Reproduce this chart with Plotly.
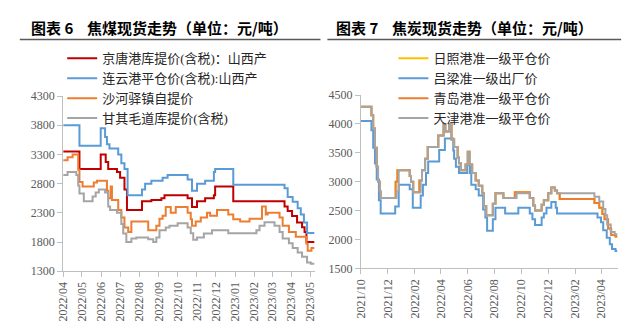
import plotly.graph_objects as go

# ---------------- Left chart: 焦煤现货走势 ----------------
jt_dates = ["2022-04-01","2022-04-27","2022-05-31","2022-06-08","2022-06-12","2022-06-26","2022-07-01","2022-07-08",
            "2022-07-12","2022-08-05","2022-08-20","2022-09-05","2022-09-10","2022-10-17","2022-10-24","2022-11-01",
            "2022-11-14","2022-11-28","2022-11-30","2022-12-29","2023-03-21","2023-03-26","2023-04-02","2023-04-10",
            "2023-04-18","2023-04-22","2023-04-25","2023-05-08"]
jt_vals = [3350,3050,3300,3170,3050,3000,2900,2700,2350,2500,2520,2550,2600,2550,2400,2500,2550,2600,2750,2500,
           2410,2330,2245,2135,2055,1970,1800,1800]

lyg_dates = ["2022-04-01","2022-04-27","2022-05-31","2022-06-07","2022-06-10","2022-06-14","2022-06-28","2022-07-03",
             "2022-07-08","2022-07-13","2022-08-05","2022-08-10","2022-08-20","2022-09-07","2022-09-15","2022-10-17",
             "2022-10-24","2022-11-01","2022-11-14","2022-11-28","2022-11-30","2022-12-29","2023-03-21","2023-03-26",
             "2023-04-03","2023-04-11","2023-04-16","2023-04-21","2023-04-26","2023-05-08"]
lyg_vals = [3800,3450,3750,3600,3475,3400,3300,3150,3050,2600,2700,2800,2850,2900,2950,2870,2680,2800,2850,3000,
            3050,2780,2720,2570,2490,2380,2270,2135,1955,1955]

sh_dates = ["2022-04-01","2022-04-08","2022-04-16","2022-04-25","2022-04-27","2022-05-02","2022-05-20","2022-05-25",
            "2022-06-10","2022-06-12","2022-06-16","2022-06-18","2022-06-28","2022-07-03","2022-07-08","2022-07-14",
            "2022-07-19","2022-08-15","2022-08-28","2022-09-02","2022-09-07","2022-09-12","2022-09-20","2022-09-28",
            "2022-10-17","2022-10-22","2022-10-24","2022-10-30","2022-11-07","2022-11-17","2022-11-22","2022-12-03",
            "2022-12-21","2022-12-29","2023-01-09","2023-01-24","2023-02-13","2023-02-19","2023-02-22","2023-03-13",
            "2023-03-18","2023-03-28","2023-04-08","2023-04-25","2023-04-27","2023-05-03","2023-05-08"]
sh_vals = [3200,3250,3300,3040,2830,2750,2820,2850,2680,2550,2750,2520,2350,2220,2050,1970,2150,2000,2080,2200,
           2250,2400,2300,2400,2300,2190,2080,2150,2220,2300,2250,2350,2270,2190,2150,2200,2410,2270,2300,2220,
           2080,1970,1890,1770,1650,1700,1700]

gq_dates = ["2022-04-01","2022-04-08","2022-04-22","2022-04-25","2022-04-27","2022-05-04","2022-05-18","2022-05-23",
            "2022-05-28","2022-06-07","2022-06-12","2022-06-15","2022-06-26","2022-07-03","2022-07-06","2022-07-11",
            "2022-07-19","2022-07-27","2022-08-15","2022-08-23","2022-08-28","2022-09-02","2022-09-12","2022-09-18",
            "2022-10-01","2022-10-17","2022-10-22","2022-10-26","2022-11-01","2022-11-12","2022-11-25","2022-12-21",
            "2023-02-04","2023-02-09","2023-02-17","2023-03-05","2023-03-13","2023-03-18","2023-03-28","2023-04-03",
            "2023-04-11","2023-04-18","2023-04-26","2023-05-02","2023-05-08"]
gq_vals = [2950,3000,2950,2770,2630,2500,2580,2650,2700,2650,2410,2350,2300,2110,1945,1800,1860,1880,1850,1800,
           1880,2000,2050,2080,2120,2050,1950,1840,1880,1945,2000,1950,2000,2080,2140,2080,1970,1860,1780,1700,
           1620,1550,1450,1430,1430]

left_names = ["京唐港库提价(含税)：山西产", "连云港平仓价(含税):山西产", "沙河驿镇自提价", "甘其毛道库提价(含税)"]
left_colors = ["#C00000", "#5B9BD5", "#ED7D31", "#A5A5A5"]

# ---------------- Right chart: 焦炭现货走势 ----------------
tj_dates = ["2021-10-01","2021-10-25","2021-10-29","2021-11-02","2021-11-06","2021-11-09","2021-11-13","2021-11-15",
            "2021-12-21","2021-12-26","2022-01-20","2022-01-23","2022-01-28","2022-02-14","2022-02-17","2022-02-24",
            "2022-03-02","2022-03-26","2022-04-07","2022-04-11","2022-04-20","2022-04-25","2022-05-01","2022-05-09",
            "2022-05-12","2022-05-16","2022-05-27","2022-06-01","2022-06-05","2022-06-11","2022-06-19","2022-06-26",
            "2022-07-04","2022-07-08","2022-07-13","2022-07-28","2022-08-03","2022-08-21","2022-09-20","2022-10-20",
            "2022-10-28","2022-11-01","2022-11-16","2022-11-21","2022-12-01","2022-12-08","2022-12-16","2022-12-21",
            "2023-03-16","2023-03-27","2023-04-05","2023-04-10","2023-04-14","2023-04-22","2023-05-01","2023-05-07"]
tj_vals = [4300,4150,3920,3590,3260,3000,2830,2720,2830,3200,3100,3000,2820,3020,3200,3400,3600,3800,4000,3870,
           4000,3730,3600,3420,3320,3200,3300,3520,3300,3150,3020,2930,2800,2575,2420,2620,2800,2720,2800,2720,
           2590,2500,2600,2680,2800,2900,2850,2800,2740,2660,2530,2420,2260,2130,2090,2090]

qd_dates = ["2021-10-01","2021-10-25","2021-10-29","2021-11-02","2021-11-06","2021-11-09","2021-11-13","2021-11-15",
            "2021-12-19","2021-12-23","2022-01-20","2022-01-23","2022-01-28","2022-02-11","2022-02-17","2022-02-24",
            "2022-03-02","2022-03-26","2022-04-07","2022-04-11","2022-04-20","2022-04-25","2022-05-01","2022-05-09",
            "2022-05-12","2022-05-16","2022-05-27","2022-06-01","2022-06-05","2022-06-11","2022-06-19","2022-06-26",
            "2022-07-04","2022-07-08","2022-07-13","2022-07-28","2022-08-03","2022-08-21","2022-09-16","2022-10-20",
            "2022-10-28","2022-11-01","2022-11-16","2022-11-21","2022-12-01","2022-12-08","2022-12-16","2022-12-21",
            "2022-12-27","2023-03-16","2023-03-27","2023-04-03","2023-04-08","2023-04-16","2023-04-23","2023-05-03",
            "2023-05-07"]
qd_vals = [4300,4150,3920,3590,3260,3000,2830,2720,3000,3200,3100,3000,2820,3020,3200,3400,3600,3800,4000,3870,
           4000,3730,3600,3420,3320,3200,3300,3520,3300,3150,3020,2930,2800,2575,2420,2620,2800,2720,2820,2720,
           2590,2500,2600,2680,2800,2900,2850,2800,2700,2630,2550,2440,2350,2190,2080,2050,2050]

# 日照港 series is fully hidden beneath 青岛/天津 in the reference
rz_dates = list(qd_dates)
rz_vals = list(qd_vals)

ll_dates = ["2021-10-01","2021-10-25","2021-10-29","2021-11-02","2021-11-06","2021-11-11","2021-11-15","2021-12-18",
            "2021-12-26","2022-01-20","2022-01-27","2022-02-14","2022-02-19","2022-02-26","2022-03-03","2022-03-28",
            "2022-04-10","2022-04-29","2022-05-01","2022-05-05","2022-05-12","2022-05-31","2022-06-06","2022-06-09",
            "2022-06-19","2022-06-26","2022-07-06","2022-07-11","2022-07-15","2022-07-28","2022-08-03","2022-08-25",
            "2022-09-24","2022-10-20","2022-10-26","2022-11-01","2022-11-16","2022-11-21","2022-11-27","2022-12-08",
            "2022-12-18","2022-12-21","2023-03-23","2023-03-31","2023-04-05","2023-04-13","2023-04-20","2023-04-25",
            "2023-05-03","2023-05-07"]
ll_vals = [4050,3890,3590,3315,3040,2680,2450,2570,2950,2870,2550,2760,2950,3150,3350,3550,3750,3540,3400,3260,
           3150,3290,3150,2950,2870,2760,2520,2380,2150,2350,2550,2450,2550,2450,2350,2250,2380,2450,2550,2650,
           2550,2450,2380,2300,2160,2030,1920,1835,1800,1800]

right_names = ["日照港准一级平仓价", "吕梁准一级出厂价", "青岛港准一级平仓价", "天津港准一级平仓价"]
right_colors = ["#FFC000", "#5B9BD5", "#ED7D31", "#A5A5A5"]

left_y_ticks = [1300, 1800, 2300, 2800, 3300, 3800, 4300]
right_y_ticks = [1500, 2000, 2500, 3000, 3500, 4000, 4500]

W, H = 632, 329
fig = go.Figure()

left_series = [(jt_dates, jt_vals), (lyg_dates, lyg_vals), (sh_dates, sh_vals), (gq_dates, gq_vals)]
for (d, v), n, c in zip(left_series, left_names, left_colors):
    fig.add_trace(go.Scatter(x=d, y=v, name=n, mode="lines", line=dict(color=c, width=2, shape="hv"),
                             xaxis="x", yaxis="y", legend="legend"))

right_series = [(rz_dates, rz_vals), (ll_dates, ll_vals), (qd_dates, qd_vals), (tj_dates, tj_vals)]
for (d, v), n, c in zip(right_series, right_names, right_colors):
    fig.add_trace(go.Scatter(x=d, y=v, name=n, mode="lines", line=dict(color=c, width=2, shape="hv"),
                             xaxis="x2", yaxis="y2", legend="legend2"))

tickfont = dict(family="Liberation Serif, serif", size=12, color="#595959")
axcol = "#BFBFBF"

def px_x(p):
    return p / W

def px_y(p):
    return 1 - p / H

legend_font = dict(family="Liberation Serif, Noto Sans CJK SC", size=13, color="#262626")

fig.update_layout(
    width=W, height=H, margin=dict(l=0, r=0, t=0, b=0),
    paper_bgcolor="white", plot_bgcolor="white",
    xaxis=dict(domain=[px_x(57), px_x(312)], type="date", range=["2022-04-01", "2023-05-08"],
               tickformat="%Y/%m", dtick="M1", tick0="2022-04-01", tickangle=-90,
               showline=True, linecolor=axcol, linewidth=1, ticks="outside", ticklen=5, tickcolor=axcol,
               showgrid=False, zeroline=False, tickfont=tickfont, anchor="y"),
    yaxis=dict(domain=[px_y(276), px_y(93)], range=[1300, 4300], tickvals=left_y_ticks,
               showline=True, linecolor=axcol, linewidth=1, ticks="outside", ticklen=5, tickcolor=axcol,
               showgrid=False, zeroline=False, tickfont=tickfont, anchor="x"),
    xaxis2=dict(domain=[px_x(359), px_x(620)], type="date", range=["2021-10-01", "2023-05-09"],
                tickformat="%Y/%m", dtick="M2", tick0="2021-10-01", tickangle=-90,
                showline=True, linecolor=axcol, linewidth=1, ticks="outside", ticklen=5, tickcolor=axcol,
                showgrid=False, zeroline=False, tickfont=tickfont, anchor="y2"),
    yaxis2=dict(domain=[px_y(273), px_y(92)], range=[1500, 4500], tickvals=right_y_ticks,
                showline=True, linecolor=axcol, linewidth=1, ticks="outside", ticklen=5, tickcolor=axcol,
                showgrid=False, zeroline=False, tickfont=tickfont, anchor="x2"),
    legend=dict(x=px_x(56), y=px_y(38), xanchor="left", yanchor="top", bgcolor="rgba(0,0,0,0)",
                font=legend_font, traceorder="normal", itemwidth=30),
    legend2=dict(x=px_x(392), y=px_y(38), xanchor="left", yanchor="top", bgcolor="rgba(0,0,0,0)",
                 font=legend_font, traceorder="normal", itemwidth=30),
    showlegend=True,
)

title_font = dict(family="Noto Sans CJK SC", size=15, color="#000000")
gap = "\u00a0\u00a0\u00a0\u00a0"
fig.add_annotation(text="<b>图表 6" + gap + "焦煤现货走势（单位：元/吨）</b>", xref="paper", yref="paper",
                   x=px_x(22), y=px_y(21), xanchor="left", yanchor="middle", showarrow=False, font=title_font)
fig.add_annotation(text="<b>图表 7" + gap + "焦炭现货走势（单位：元/吨）</b>", xref="paper", yref="paper",
                   x=px_x(332), y=px_y(21), xanchor="left", yanchor="middle", showarrow=False, font=title_font)
fig.add_shape(type="line", xref="paper", yref="paper", x0=px_x(13), x1=px_x(318), y0=px_y(34), y1=px_y(34),
              line=dict(color="#595959", width=1.5))
fig.add_shape(type="line", xref="paper", yref="paper", x0=px_x(325), x1=px_x(623), y0=px_y(34), y1=px_y(34),
              line=dict(color="#595959", width=1.5))

fig.write_html("out.html")
